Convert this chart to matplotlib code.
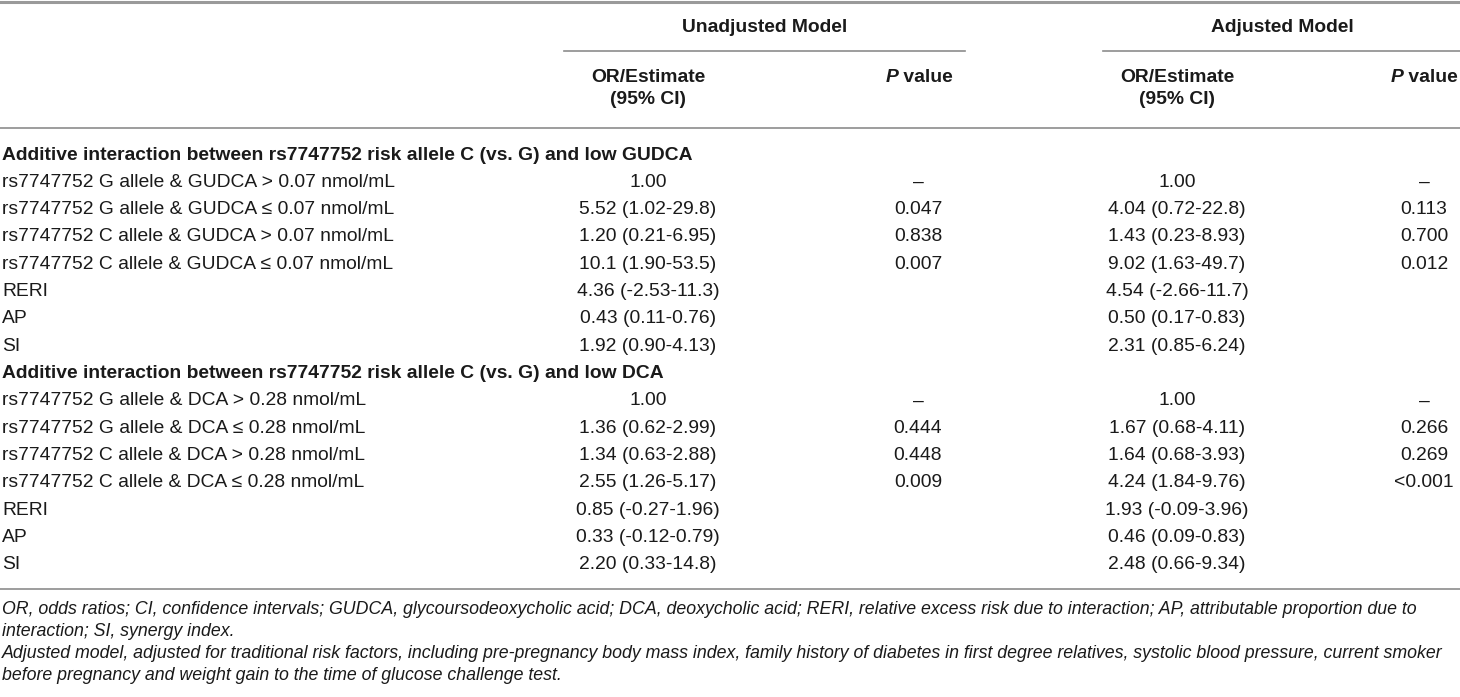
import matplotlib
matplotlib.use("Agg")
import matplotlib.pyplot as plt

plt.rcParams['font.family'] = ['Liberation Sans', 'DejaVu Sans']

# table content
sections = [
    "Additive interaction between rs7747752 risk allele C (vs. G) and low GUDCA",
    "Additive interaction between rs7747752 risk allele C (vs. G) and low DCA",
]
labels_gudca = [
    "rs7747752 G allele & GUDCA > 0.07 nmol/mL",
    "rs7747752 G allele & GUDCA ≤ 0.07 nmol/mL",
    "rs7747752 C allele & GUDCA > 0.07 nmol/mL",
    "rs7747752 C allele & GUDCA ≤ 0.07 nmol/mL",
    "RERI",
    "AP",
    "SI",
]
or_unadj_gudca = ["1.00", "5.52 (1.02-29.8)", "1.20 (0.21-6.95)", "10.1 (1.90-53.5)",
                  "4.36 (-2.53-11.3)", "0.43 (0.11-0.76)", "1.92 (0.90-4.13)"]
p_unadj_gudca = ["–", "0.047", "0.838", "0.007", "", "", ""]
or_adj_gudca = ["1.00", "4.04 (0.72-22.8)", "1.43 (0.23-8.93)", "9.02 (1.63-49.7)",
                "4.54 (-2.66-11.7)", "0.50 (0.17-0.83)", "2.31 (0.85-6.24)"]
p_adj_gudca = ["–", "0.113", "0.700", "0.012", "", "", ""]

labels_dca = [
    "rs7747752 G allele & DCA > 0.28 nmol/mL",
    "rs7747752 G allele & DCA ≤ 0.28 nmol/mL",
    "rs7747752 C allele & DCA > 0.28 nmol/mL",
    "rs7747752 C allele & DCA ≤ 0.28 nmol/mL",
    "RERI",
    "AP",
    "SI",
]
or_unadj_dca = ["1.00", "1.36 (0.62-2.99)", "1.34 (0.63-2.88)", "2.55 (1.26-5.17)",
                "0.85 (-0.27-1.96)", "0.33 (-0.12-0.79)", "2.20 (0.33-14.8)"]
p_unadj_dca = ["–", "0.444", "0.448", "0.009", "", "", ""]
or_adj_dca = ["1.00", "1.67 (0.68-4.11)", "1.64 (0.68-3.93)", "4.24 (1.84-9.76)",
              "1.93 (-0.09-3.96)", "0.46 (0.09-0.83)", "2.48 (0.66-9.34)"]
p_adj_dca = ["–", "0.266", "0.269", "<0.001", "", "", ""]

footnotes = [
    "OR, odds ratios; CI, confidence intervals; GUDCA, glycoursodeoxycholic acid; DCA, deoxycholic acid; "
    "RERI, relative excess risk due to interaction; AP, attributable proportion due to",
    "interaction; SI, synergy index.",
    "Adjusted model, adjusted for traditional risk factors, including pre-pregnancy body mass index, "
    "family history of diabetes in first degree relatives, systolic blood pressure, current smoker",
    "before pregnancy and weight gain to the time of glucose challenge test.",
]

W, H = 1460, 697
fig = plt.figure(figsize=(W / 100, H / 100), dpi=100)
ax = fig.add_axes([0, 0, 1, 1])
ax.set_xlim(0, W)
ax.set_ylim(H, 0)
ax.axis('off')
renderer = fig.canvas.get_renderer()

txt = '#1a1a1a'
rule = '#8c8c8c'
fs = 13.9
x_or1, x_p1, x_or2, x_p2 = 648, 918, 1177, 1424

# rules
ax.plot([0, W], [2, 2], color='#9a9a9a', lw=2.2)
ax.plot([564, 965], [51, 51], color=rule, lw=1.2)
ax.plot([1103, W], [51, 51], color=rule, lw=1.2)
ax.plot([0, W], [128, 128], color=rule, lw=1.2)
ax.plot([0, W], [589, 589], color=rule, lw=1.2)

# header
ax.text(765, 28, "Unadjusted Model", ha='center', va='center', fontsize=fs, weight='bold', color=txt)
ax.text(1282, 28, "Adjusted Model", ha='center', va='center', fontsize=fs, weight='bold', color=txt)
for xc in [x_or1, x_or2]:
    ax.text(xc, 77, "OR/Estimate", ha='center', va='center', fontsize=fs, weight='bold', color=txt)
    ax.text(xc, 99, "(95% CI)", ha='center', va='center', fontsize=fs, weight='bold', color=txt)

for xr in [953, 1458]:
    t2 = ax.text(xr, 77, " value", ha='right', va='center', fontsize=fs, weight='bold', color=txt)
    bb = t2.get_window_extent(renderer=renderer)
    ax.text(xr - bb.width, 77, "P", ha='right', va='center', fontsize=fs, weight='bold',
            style='italic', color=txt)

# body
blocks = [
    (labels_gudca, or_unadj_gudca, p_unadj_gudca, or_adj_gudca, p_adj_gudca),
    (labels_dca, or_unadj_dca, p_unadj_dca, or_adj_dca, p_adj_dca),
]
y0, dy = 155, 27.33
row = 0
for title, (labs, o1, p1, o2, p2) in zip(sections, blocks):
    y = y0 + dy * row
    ax.text(2, y, title, ha='left', va='center', fontsize=fs, weight='bold', color=txt)
    row += 1
    for i in range(len(labs)):
        y = y0 + dy * row
        ax.text(2, y, labs[i], ha='left', va='center', fontsize=fs, color=txt)
        ax.text(x_or1, y, o1[i], ha='center', va='center', fontsize=fs, color=txt)
        ax.text(x_p1, y, p1[i], ha='center', va='center', fontsize=fs, color=txt)
        ax.text(x_or2, y, o2[i], ha='center', va='center', fontsize=fs, color=txt)
        ax.text(x_p2, y, p2[i], ha='center', va='center', fontsize=fs, color=txt)
        row += 1

# footnotes: shrink so the long lines fit the width like the original
ffs = 13.2
scale = 1.0
for line in [footnotes[0], footnotes[2]]:
    t = ax.text(2, 0, line, fontsize=ffs, style='italic')
    w = t.get_window_extent(renderer=renderer).width
    t.remove()
    scale = min(scale, 1454 / w)
ffs = ffs * scale
for yy, line in zip([610, 631, 653, 675], footnotes):
    ax.text(2, yy, line, ha='left', va='center', fontsize=ffs, style='italic', color=txt)

fig.savefig("out.png", dpi=100)
